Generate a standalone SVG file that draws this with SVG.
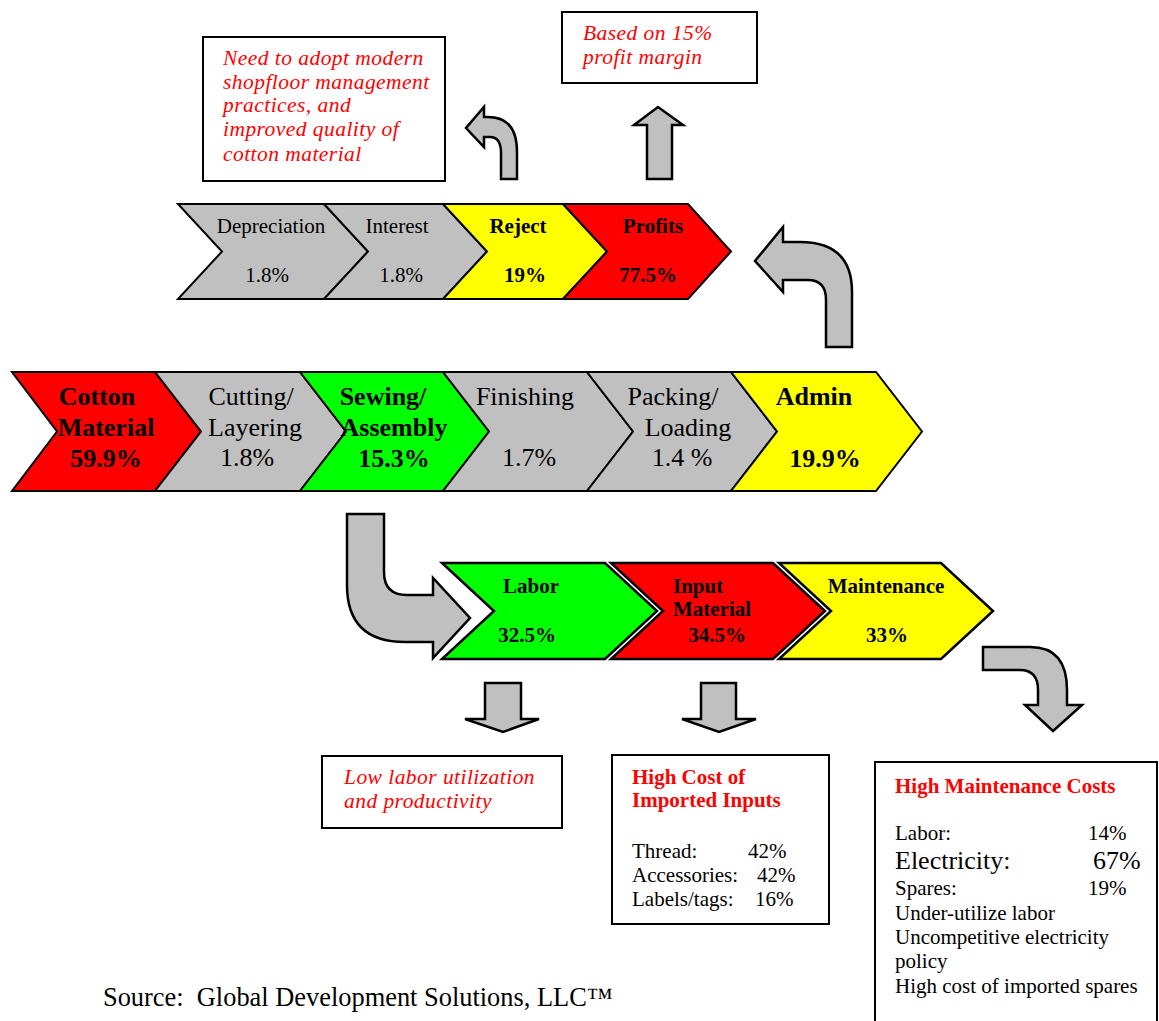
<svg xmlns="http://www.w3.org/2000/svg" width="1159" height="1021" viewBox="0 0 1159 1021">
  <style>
    text { font-family: "Liberation Serif", "Times New Roman", serif; fill: #000; }
    .chev { stroke: #000; stroke-width: 2; stroke-linejoin: miter; }
    .chev2 { stroke: #000; stroke-width: 2.5; stroke-linejoin: miter; }
    .gray { fill: #C0C0C0; }
    .red { fill: #FF0000; }
    .green { fill: #00FF00; }
    .yellow { fill: #FFFF00; }
    .arrow { fill: #C0C0C0; stroke: #000; stroke-width: 2.5; stroke-linejoin: miter; }
    .box { fill: #FFFFFF; stroke: #000; stroke-width: 2; }
    .big { font-size: 26px; }
    .small { font-size: 21px; }
    .b { font-weight: bold; }
    .mid { text-anchor: middle; }
    .note { font-size: 21.5px; font-style: italic; fill: #FF0000; letter-spacing: 0.45px; }
    .head { font-size: 21px; font-weight: bold; fill: #FF0000; }
  </style>

  <!-- main value chain -->
  <g id="cotton-material">
    <polygon class="chev red" points="12,372 155,372 201,431.5 155,491 12,491 57,431.5"/>
    <text class="big b mid" x="97" y="405">Cotton</text>
    <text class="big b mid" x="106" y="436">Material</text>
    <text class="big b mid" x="106" y="467">59.9%</text>
  </g>
  <g id="cutting-layering">
    <polygon class="chev gray" points="155,372 300,372 346,431.5 300,491 155,491 201,431.5"/>
    <text class="big mid" x="251" y="405">Cutting/</text>
    <text class="big mid" x="255" y="436">Layering</text>
    <text class="big mid" x="247" y="466">1.8%</text>
  </g>
  <g id="sewing-assembly">
    <polygon class="chev green" points="300,372 443,372 489,431.5 443,491 300,491 346,431.5"/>
    <text class="big b mid" x="383" y="405">Sewing/</text>
    <text class="big b mid" x="394" y="436">Assembly</text>
    <text class="big b mid" x="394" y="467">15.3%</text>
  </g>
  <g id="finishing">
    <polygon class="chev gray" points="443,372 587,372 633,431.5 587,491 443,491 489,431.5"/>
    <text class="big mid" x="525" y="405">Finishing</text>
    <text class="big mid" x="529" y="466">1.7%</text>
  </g>
  <g id="packing-loading">
    <polygon class="chev gray" points="587,372 731,372 777,431.5 731,491 587,491 633,431.5"/>
    <text class="big mid" x="673" y="405">Packing/</text>
    <text class="big mid" x="688" y="436">Loading</text>
    <text class="big mid" x="682" y="466">1.4 %</text>
  </g>
  <g id="admin">
    <polygon class="chev yellow" points="731,372 876,372 922,431.5 876,491 731,491 777,431.5"/>
    <text class="big b mid" x="814" y="405">Admin</text>
    <text class="big b mid" x="825" y="467">19.9%</text>
  </g>

  <!-- admin breakdown -->
  <g id="depreciation">
    <polygon class="chev gray" points="178,204 324,204 368,251.5 324,299 178,299 222,251.5"/>
    <text class="small mid" x="271" y="233">Depreciation</text>
    <text class="small mid" x="267" y="282">1.8%</text>
  </g>
  <g id="interest">
    <polygon class="chev gray" points="324,204 443,204 487,251.5 443,299 324,299 368,251.5"/>
    <text class="small mid" x="397" y="233">Interest</text>
    <text class="small mid" x="401" y="282">1.8%</text>
  </g>
  <g id="reject">
    <polygon class="chev yellow" points="443,204 563,204 607,251.5 563,299 443,299 487,251.5"/>
    <text class="small b mid" x="518" y="233">Reject</text>
    <text class="small b mid" x="525" y="282">19%</text>
  </g>
  <g id="profits">
    <polygon class="chev red" points="563,204 688,204 731,251.5 688,299 563,299 607,251.5"/>
    <text class="small b mid" x="653" y="233">Profits</text>
    <text class="small b mid" x="648" y="282">77.5%</text>
  </g>

  <!-- sewing breakdown -->
  <g id="labor">
    <polygon class="chev2 green" points="442,563 605,563 657,611 605,659 442,659 494,611"/>
    <text class="small b mid" x="531" y="593">Labor</text>
    <text class="small b mid" x="527" y="642">32.5%</text>
  </g>
  <g id="input-material">
    <polygon class="chev2 red" points="611,563 773,563 825,611 773,659 611,659 663,611"/>
    <text class="small b" x="673" y="593">Input</text>
    <text class="small b" x="673" y="616">Material</text>
    <text class="small b mid" x="717" y="642">34.5%</text>
  </g>
  <g id="maintenance">
    <polygon class="chev2 yellow" points="779,563 941,563 993,611 941,659 779,659 831,611"/>
    <text class="small b mid" x="886" y="593">Maintenance</text>
    <text class="small b mid" x="887" y="642">33%</text>
  </g>

  <!-- notes -->
  <g id="note-shopfloor">
    <rect class="box" x="203" y="37" width="242" height="144"/>
    <text class="note" x="223" y="65">Need to adopt modern</text>
    <text class="note" x="223" y="89">shopfloor management</text>
    <text class="note" x="223" y="112">practices, and</text>
    <text class="note" x="223" y="136">improved quality of</text>
    <text class="note" x="223" y="161">cotton material</text>
  </g>
  <g id="note-profit">
    <rect class="box" x="562" y="12" width="195" height="71"/>
    <text class="note" x="583" y="40">Based on 15%</text>
    <text class="note" x="583" y="64">profit margin</text>
  </g>
  <g id="note-labor">
    <rect class="box" x="322" y="756" width="240" height="72"/>
    <text class="note" x="344" y="784">Low labor utilization</text>
    <text class="note" x="344" y="808">and productivity</text>
  </g>
  <g id="note-inputs">
    <rect class="box" x="612" y="755" width="217" height="169"/>
    <text class="head" x="632" y="784">High Cost of</text>
    <text class="head" x="632" y="807">Imported Inputs</text>
    <text class="small" x="632" y="858">Thread:</text>
    <text class="small" x="748" y="858">42%</text>
    <text class="small" x="632" y="882">Accessories:</text>
    <text class="small" x="757" y="882">42%</text>
    <text class="small" x="632" y="906">Labels/tags:</text>
    <text class="small" x="755" y="906">16%</text>
  </g>
  <g id="note-maintenance">
    <rect class="box" x="875" y="762" width="282" height="300"/>
    <text class="head" x="895" y="793">High Maintenance Costs</text>
    <text class="small" x="895" y="840">Labor:</text>
    <text class="small" x="1088" y="840">14%</text>
    <text class="big" x="895" y="869">Electricity:</text>
    <text class="big" x="1093" y="869">67%</text>
    <text class="small" x="895" y="895">Spares:</text>
    <text class="small" x="1088" y="895">19%</text>
    <text class="small" x="895" y="920">Under-utilize labor</text>
    <text class="small" x="895" y="944">Uncompetitive electricity</text>
    <text class="small" x="895" y="968">policy</text>
    <text class="small" x="895" y="993">High cost of imported spares</text>
  </g>

  <!-- block arrows linking stages and notes -->
  <g id="connectors">
    <path class="arrow" d="M826,347 L852,347 L852,292 Q852,242 800,242 L783,242 L783,227 L755,261 L783,292 L783,280 L808,280 Q826,280 826,300 Z"/>
    <path class="arrow" d="M501,179 L517,179 L517,152 Q517,117 488,117 L484,117 L484,107 L466,128 L484,147 L484,137 L490,137 Q501,137 501,153 Z"/>
    <path class="arrow" d="M647,179 L672,179 L672,125 L683,125 L658,107 L634,125 L647,125 Z"/>
    <path class="arrow" d="M347,514 L384,514 L384,572 Q384,595 407,595 L433,595 L433,578 L470,618 L433,658 L433,642 L405,642 Q347,642 347,585 Z"/>
    <path class="arrow" d="M485,683 L521,683 L521,719 L539,719 L503,732 L465,719 L485,719 Z"/>
    <path class="arrow" d="M701,683 L736,683 L736,719 L756,719 L719,732 L682,719 L701,719 Z"/>
    <path class="arrow" d="M983,647 L1030,647 Q1067,647 1067,690 L1067,705 L1082,705 L1053,731 L1025,705 L1038,705 L1038,690 Q1038,670 1020,670 L983,670 Z"/>
  </g>

  <text class="big" style="font-size:26.4px" x="103" y="1006" xml:space="preserve">Source:  Global Development Solutions, LLC™</text>
</svg>
